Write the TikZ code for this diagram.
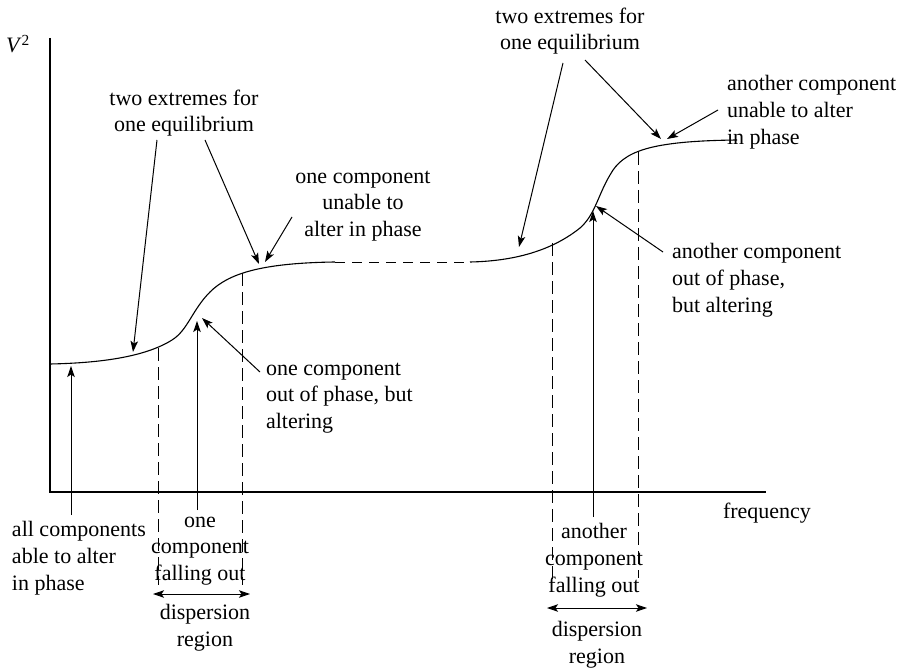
\documentclass[tikz,border=0pt]{standalone}
\usepackage{fontspec}
\setmainfont{Liberation Serif}
\usetikzlibrary{arrows.meta}
\begin{document}
\begin{tikzpicture}[x=1pt,y=-1pt,
  every node/.style={inner sep=0pt,outer sep=0pt,font=\fontsize{22}{26.8}\selectfont},
  ctext/.style={align=center},
  ltext/.style={align=left,anchor=west},
  axis/.style={line width=1.1pt},
  curve/.style={line width=1.1pt},
  vdash/.style={line width=0.9pt,dash pattern=on 13pt off 6pt},
  hdash/.style={line width=1pt,dash pattern=on 10pt off 7pt},
  pointer/.style={line width=1pt,-{Stealth[length=11pt,width=7.5pt,inset=2.5pt]}},
  span/.style={line width=1pt,{Stealth[length=11pt,width=7.5pt,inset=2.5pt]}-{Stealth[length=11pt,width=7.5pt,inset=2.5pt]}}
]
\useasboundingbox (0,0) rectangle (905,671);

% axes
\coordinate (ytop) at (50,38);
\coordinate (orig) at (50,492);
\coordinate (xend) at (766,492);
\draw[axis] (ytop) -- (orig) -- (xend);
\node (v2) at (18,44) {\textit{V}\textsuperscript{2}};
\node (freq) at (767,513) {frequency};

% curve
\coordinate (c0) at (50,364);
\coordinate (c1) at (172,340);
\coordinate (c2) at (210,292);
\coordinate (c3) at (335,262);
\coordinate (c4) at (470,262);
\coordinate (c5) at (580,228);
\coordinate (c6) at (610,175);
\coordinate (c7) at (737,140);
\draw[curve] (c0) .. controls (100,363) and (145,357) .. (c1)
  .. controls (188,330) and (192,310) .. (c2)
  .. controls (228,274) and (260,263) .. (c3);
\draw[hdash] (c3) -- (c4);
\draw[curve] (c4) .. controls (520,261) and (555,248) .. (c5)
  .. controls (595,215) and (598,195) .. (c6)
  .. controls (623,151) and (650,141) .. (c7);

% dashed verticals
\coordinate (d1t) at (158,348); \coordinate (d1b) at (158,585);
\coordinate (d2t) at (242,273); \coordinate (d2b) at (242,585);
\coordinate (d3t) at (552,243); \coordinate (d3b) at (552,580);
\coordinate (d4t) at (638,152); \coordinate (d4b) at (638,578);
\draw[vdash] (d1t) -- (d1b);
\draw[vdash] (d2t) -- (d2b);
\draw[vdash] (d3t) -- (d3b);
\draw[vdash] (d4t) -- (d4b);

% text labels
\node[ctext] (tl) at (184,113) {two extremes for\\one equilibrium};
\node[ctext] (ucl) at (363,206) {one component\\unable to\\alter in phase};
\node[ltext] (ocl) at (266,398) {one component\\out of phase, but\\altering};
\node[ltext] (all) at (12,558) {all components\\able to alter\\in phase};
\node[ctext] (fl) at (200,551) {one\\component\\falling out};
\node[ctext] (dl) at (205,628) {dispersion\\region};
\node[ctext] (tr) at (570,31) {two extremes for\\one equilibrium};
\node[ltext] (ucr) at (727,112) {another component\\unable to alter\\in phase};
\node[ltext] (ocr) at (672,280) {another component\\out of phase,\\but altering};
\node[ctext] (fr) at (594,560) {another\\component\\falling out};
\node[ctext] (dr) at (597,645) {dispersion\\region};

% arrows
\coordinate (a1s) at (157,140); \coordinate (a1e) at (133,352);
\coordinate (a2s) at (205,140); \coordinate (a2e) at (259,264);
\coordinate (a3s) at (292,217); \coordinate (a3e) at (265,262);
\coordinate (a4s) at (260,372); \coordinate (a4e) at (202,318);
\coordinate (a5s) at (197,510); \coordinate (a5e) at (197,321);
\coordinate (a6s) at (71,515);  \coordinate (a6e) at (71,366);
\coordinate (a7s) at (563,63);  \coordinate (a7e) at (519,247);
\coordinate (a8s) at (585,60);  \coordinate (a8e) at (661,139);
\coordinate (a9s) at (718,110); \coordinate (a9e) at (667,139);
\coordinate (a10s) at (663,252); \coordinate (a10e) at (596,206);
\coordinate (a11s) at (593,517); \coordinate (a11e) at (593,211);
\draw[pointer] (a1s) -- (a1e);
\draw[pointer] (a2s) -- (a2e);
\draw[pointer] (a3s) -- (a3e);
\draw[pointer] (a4s) -- (a4e);
\draw[pointer] (a5s) -- (a5e);
\draw[pointer] (a6s) -- (a6e);
\draw[pointer] (a7s) -- (a7e);
\draw[pointer] (a8s) -- (a8e);
\draw[pointer] (a9s) -- (a9e);
\draw[pointer] (a10s) -- (a10e);
\draw[pointer] (a11s) -- (a11e);

% dispersion spans
\coordinate (s1l) at (153,594); \coordinate (s1r) at (250,594);
\coordinate (s2l) at (547,608); \coordinate (s2r) at (647,608);
\draw[span] (s1l) -- (s1r);
\draw[span] (s2l) -- (s2r);
\end{tikzpicture}
\end{document}
